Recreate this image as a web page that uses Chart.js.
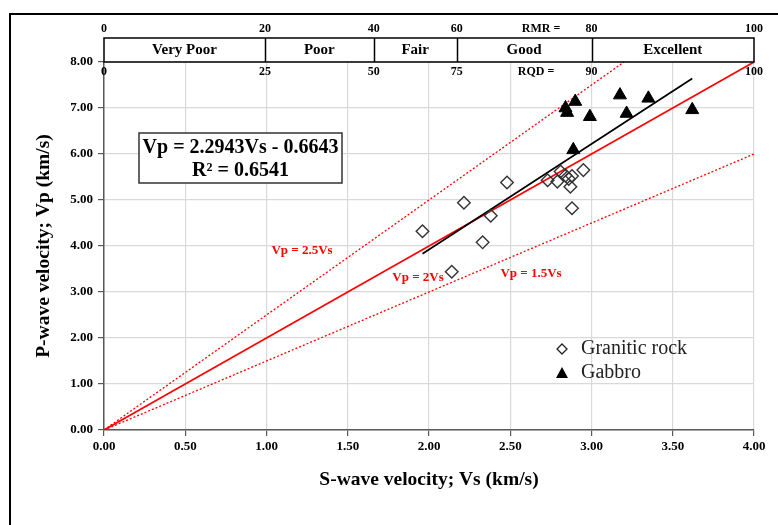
<!DOCTYPE html>
<html>
<head>
<meta charset="utf-8">
<script src="https://cdn.jsdelivr.net/npm/chart.js@4.4.0/dist/chart.umd.min.js"></script>
<style>
  html, body { margin: 0; padding: 0; background: #fff; overflow: hidden; }
  #wrap { position: relative; width: 778px; height: 525px; }
  #frame { position: absolute; left: 9px; top: 13px; width: 800px; height: 540px;
           border: 2px solid #000; box-sizing: border-box; pointer-events: none; }
  canvas { position: absolute; left: 0; top: 0; }
</style>
</head>
<body>
<div id="wrap">
  <canvas id="chart" width="778" height="525"></canvas>
  <div id="frame"></div>
</div>
<script>
// Measured points (Vs, Vp in km/s)
const graniticVs = [1.96, 2.14, 2.215, 2.33, 2.38, 2.48, 2.73, 2.79, 2.81, 2.84, 2.86, 2.87, 2.88, 2.88, 2.95];
const graniticVp = [4.32, 3.44, 4.94, 4.08, 4.66, 5.38, 5.43, 5.40, 5.62, 5.53, 5.46, 5.29, 5.52, 4.82, 5.65];
const gabbroVs = [2.90, 2.84, 2.85, 2.99, 3.175, 3.35, 3.216, 3.62, 2.888];
const gabbroVp = [7.14, 7.00, 6.90, 6.81, 7.28, 7.21, 6.88, 6.96, 6.09];

// Regression line Vp = 2.2943Vs - 0.6643 (end points)
const fitVs = [1.96, 3.62];
const fitVp = [3.83, 7.64];

// Reference ratio lines
const line2Vs = [0, 4];
const line2Vp = [0, 8];
const line25Vs = [0, 3.2];
const line25Vp = [0, 8];
const line15Vs = [0, 4];
const line15Vp = [0, 6];

// Rock mass quality band (boundaries on the Vs axis)
const classEdges = [0, 0.99, 1.66, 2.17, 3.0, 4.0];
const classNames = ['Very Poor', 'Poor', 'Fair', 'Good', 'Excellent'];
const rmrLabels = ['0', '20', '40', '60', '80', '100'];
const rqdLabels = ['0', '25', '50', '75', '90', '100'];

const xTicksMax = 4;
const yTicksMax = 8;

const SERIF = '"Liberation Serif", "Times New Roman", serif';

function pts(xs, ys) {
  return xs.map((x, i) => ({ x: x, y: ys[i] }));
}

const bandPlugin = {
  id: 'band',
  afterDraw(chart) {
    const ctx = chart.ctx;
    const xs = chart.scales.x;
    const top = chart.chartArea.top;
    const bandTop = top - 24;
    ctx.save();
    ctx.strokeStyle = '#000';
    ctx.lineWidth = 1.5;
    ctx.strokeRect(xs.getPixelForValue(0), bandTop, xs.getPixelForValue(4) - xs.getPixelForValue(0), 24);
    ctx.beginPath();
    classEdges.slice(1, -1).forEach(v => {
      const px = Math.round(xs.getPixelForValue(v)) + 0.5;
      ctx.moveTo(px, bandTop);
      ctx.lineTo(px, top);
    });
    ctx.stroke();
    ctx.fillStyle = '#000';
    ctx.textAlign = 'center';
    ctx.textBaseline = 'middle';
    ctx.font = 'bold 15px ' + SERIF;
    classNames.forEach((name, i) => {
      const cx = (xs.getPixelForValue(classEdges[i]) + xs.getPixelForValue(classEdges[i + 1])) / 2;
      ctx.fillText(name, cx, bandTop + 12);
    });
    ctx.font = 'bold 12px ' + SERIF;
    classEdges.forEach((v, i) => {
      const px = xs.getPixelForValue(v);
      ctx.fillText(rmrLabels[i], px, bandTop - 9);
      ctx.fillText(rqdLabels[i], px, top + 10);
    });
    ctx.fillText('RMR =', 541, bandTop - 9);
    ctx.fillText('RQD =', 536, top + 10);
    ctx.restore();
  }
};

const notesPlugin = {
  id: 'notes',
  afterDatasetsDraw(chart) {
    const ctx = chart.ctx;
    ctx.save();
    // ratio line labels
    ctx.fillStyle = '#ff0000';
    ctx.font = 'bold 13px ' + SERIF;
    ctx.textAlign = 'center';
    ctx.textBaseline = 'middle';
    ctx.fillText('Vp = 2.5Vs', 302, 251);
    ctx.fillText('Vp = 2Vs', 418, 278);
    ctx.fillText('Vp = 1.5Vs', 531, 274);

    // equation box
    ctx.fillStyle = '#fff';
    ctx.fillRect(139, 133, 203, 50);
    ctx.strokeStyle = '#333';
    ctx.lineWidth = 1.5;
    ctx.strokeRect(139, 133, 203, 50);
    ctx.fillStyle = '#000';
    ctx.font = 'bold 20px ' + SERIF;
    ctx.fillText('Vp = 2.2943Vs - 0.6643', 240.5, 148);
    ctx.fillText('R² = 0.6541', 240.5, 171);

    // legend
    ctx.font = '20px ' + SERIF;
    ctx.textAlign = 'left';
    ctx.fillStyle = '#222';
    ctx.fillText('Granitic rock', 581, 349);
    ctx.fillText('Gabbro', 581, 373);
    ctx.strokeStyle = '#222';
    ctx.lineWidth = 1.3;
    ctx.beginPath();
    ctx.moveTo(562, 344); ctx.lineTo(567, 349); ctx.lineTo(562, 354); ctx.lineTo(557, 349); ctx.closePath();
    ctx.stroke();
    ctx.fillStyle = '#000';
    ctx.beginPath();
    ctx.moveTo(562, 367); ctx.lineTo(568, 378); ctx.lineTo(556, 378); ctx.closePath();
    ctx.fill();
    ctx.restore();
  }
};

const axisFont = { family: SERIF, size: 13, weight: 'bold' };
const titleFont = { family: SERIF, size: 19.5, weight: 'bold' };

new Chart(document.getElementById('chart'), {
  type: 'scatter',
  data: {
    datasets: [
      {
        label: 'Granitic rock',
        data: pts(graniticVs, graniticVp),
        pointStyle: 'rectRot',
        pointRadius: 6.3,
        borderColor: '#333',
        borderWidth: 1.4,
        backgroundColor: 'rgba(0,0,0,0)',
        order: 0
      },
      {
        label: 'Gabbro',
        data: pts(gabbroVs, gabbroVp),
        pointStyle: 'triangle',
        pointRadius: 7.5,
        borderColor: '#000',
        borderWidth: 1,
        backgroundColor: '#000',
        order: 0
      },
      {
        label: 'fit',
        data: pts(fitVs, fitVp),
        showLine: true,
        pointRadius: 0,
        borderColor: '#000',
        borderWidth: 1.7,
        order: 1
      },
      {
        label: 'Vp = 2Vs',
        data: pts(line2Vs, line2Vp),
        showLine: true,
        pointRadius: 0,
        borderColor: '#ff0000',
        borderWidth: 1.7,
        order: 2
      },
      {
        label: 'Vp = 2.5Vs',
        data: pts(line25Vs, line25Vp),
        showLine: true,
        pointRadius: 0,
        borderColor: '#ff0000',
        borderWidth: 1.3,
        borderDash: [2, 2],
        order: 2
      },
      {
        label: 'Vp = 1.5Vs',
        data: pts(line15Vs, line15Vp),
        showLine: true,
        pointRadius: 0,
        borderColor: '#ff0000',
        borderWidth: 1.3,
        borderDash: [2, 2],
        order: 2
      }
    ]
  },
  options: {
    responsive: false,
    animation: false,
    layout: { padding: { left: 28, right: 24, top: 62, bottom: 33 } },
    plugins: {
      legend: { display: false },
      tooltip: { enabled: false }
    },
    scales: {
      x: {
        type: 'linear',
        min: 0,
        max: xTicksMax,
        afterFit: s => { s.height = 62; },
        ticks: { stepSize: 0.5, callback: v => v.toFixed(2), font: axisFont, color: '#000', maxRotation: 0, padding: 3 },
        grid: { color: '#d9d9d9', lineWidth: 1.2, tickColor: '#595959', tickLength: 6 },
        border: { color: '#595959', width: 1.5 },
        title: { display: true, text: 'S-wave velocity; Vs (km/s)', font: titleFont, color: '#000', padding: 0 }
      },
      y: {
        type: 'linear',
        min: 0,
        max: yTicksMax,
        afterFit: s => { s.width = 76; },
        ticks: { stepSize: 1, callback: v => v.toFixed(2), font: axisFont, color: '#000', padding: 5 },
        grid: { color: '#d9d9d9', lineWidth: 1.2, tickColor: '#595959', tickLength: 6 },
        border: { color: '#595959', width: 1.5 },
        title: { display: true, text: 'P-wave velocity; Vp (km/s)', font: titleFont, color: '#000', padding: { top: 4, bottom: 4 } }
      }
    }
  },
  plugins: [bandPlugin, notesPlugin]
});
</script>
</body>
</html>
